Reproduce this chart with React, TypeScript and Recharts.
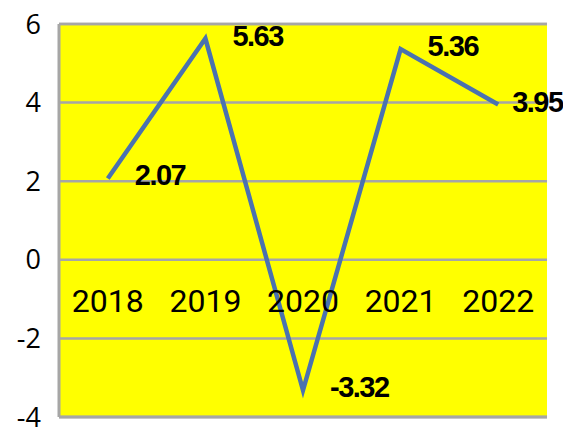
import React from 'react'
import { LineChart, Line, XAxis, YAxis, CartesianGrid, LabelList, ReferenceDot, ReferenceLine } from 'recharts'

const years = ['2018', '2019', '2020', '2021', '2022']
const values = [2.07, 5.63, -3.32, 5.36, 3.95]
const yTicks = [-4, -2, 0, 2, 4, 6]

const rows = years.map((year, i) => ({ year, value: values[i] }))

const PointLabel = (props: any) => {
  const { x, y, value, index } = props
  const last = index === values.length - 1
  return (
    <text
      x={x + (last ? 14 : 27)}
      y={y - 3}
      dominantBaseline="central"
      textAnchor="start"
      fontFamily="Liberation Sans, Arial, sans-serif"
      fontWeight="bold"
      fontSize={29}
      letterSpacing={-1.5}
      fill="#000"
    >
      {value}
    </text>
  )
}

const App = () => {
  return (
    <LineChart width={563} height={423} data={rows} margin={{ top: 16, right: 24, bottom: 14, left: 0 }}>
      <CartesianGrid vertical={false} stroke="#a6a6a6" strokeWidth={2.5} fill="#ffff00" />
      <XAxis dataKey="year" hide scale="band" />
      <YAxis
        width={51}
        domain={[-4, 6]}
        ticks={yTicks}
        interval={0}
        tickLine={false}
        axisLine={{ stroke: '#a6a6a6', strokeWidth: 3 }}
        tickMargin={12}
        tick={{ fill: '#000', fontSize: 27, fontFamily: 'Open Sans, Noto Sans, sans-serif' }}
      />
      <ReferenceLine y={6} stroke="#a6a6a6" strokeWidth={2.5} />
      <ReferenceLine y={-4} stroke="#a6a6a6" strokeWidth={3} />
      {years.map((y) => (
        <ReferenceDot
          key={y}
          x={y}
          y={0}
          r={0}
          stroke="none"
          fill="none"
          label={{ value: y, position: 'bottom', offset: 29, fill: '#000', fontSize: 32, fontFamily: 'Roboto, sans-serif' }}
        />
      ))}
      <Line
        type="linear"
        dataKey="value"
        stroke="#4a72b0"
        strokeWidth={4.5}
        dot={false}
        isAnimationActive={false}
      >
        <LabelList dataKey="value" content={PointLabel} />
      </Line>
    </LineChart>
  )
}

export default App
